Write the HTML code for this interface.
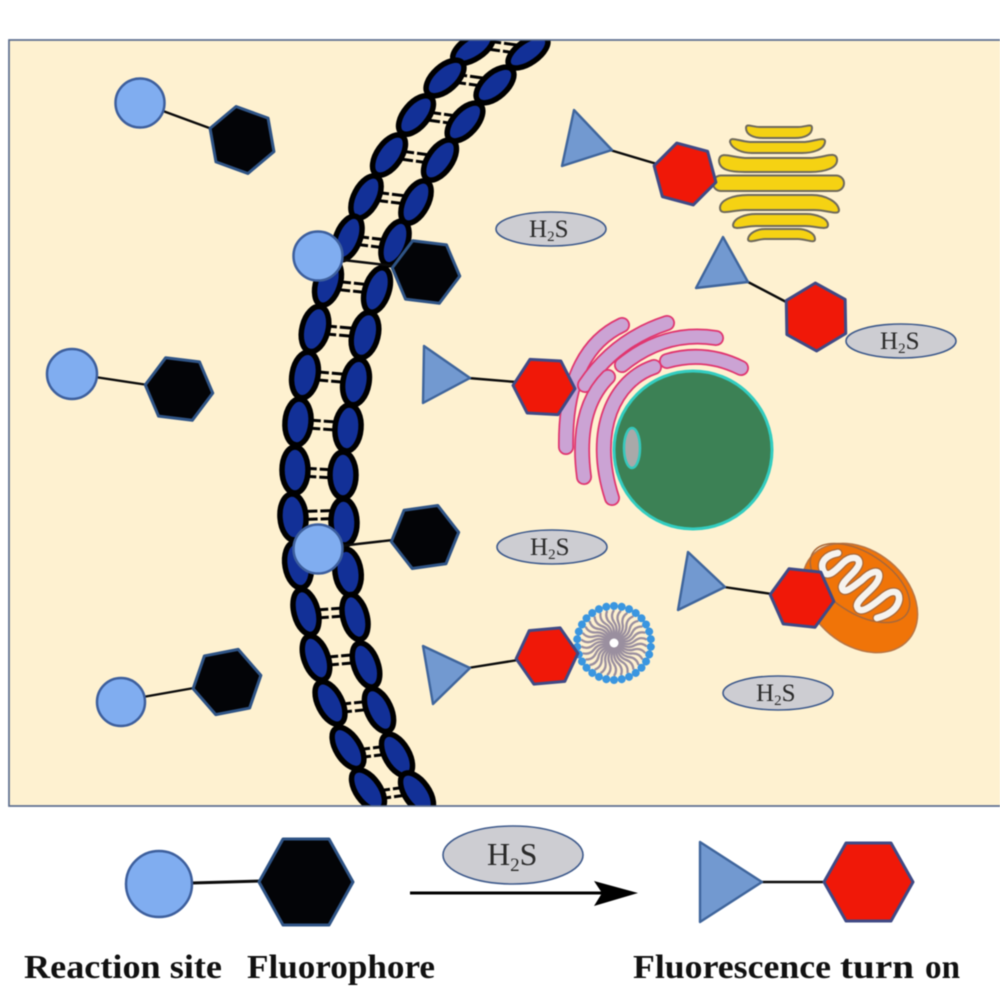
<!DOCTYPE html>
<html><head><meta charset="utf-8"><style>
html,body{margin:0;padding:0;background:#fff;width:1000px;height:1008px;overflow:hidden}
svg{display:block;filter:blur(.6px)}
text{font-family:"Liberation Serif",serif;fill:#2a2a2a}
.b{font-weight:bold;font-size:34px;fill:#111}
.h{font-size:25px}
.l{fill:none;stroke:#0b0b0b;stroke-width:2.4}
.e{fill:#cdcdd2;stroke:#3e5a8c;stroke-width:1.6}
.t{fill:#7299d0;stroke:#3f659c;stroke-width:2.4;stroke-linejoin:round}
.c{fill:#80adf0;stroke:#3d5f9d;stroke-width:2.5}
.k{fill:#030407;stroke:#2f5486;stroke-width:3}
.r{fill:#f01808;stroke:#3f4a86;stroke-width:3}
.y{fill:#f5d213;stroke:#6f6a5c;stroke-width:2}
.o{fill:none;stroke:#e0356f;stroke-width:16;stroke-linecap:round}
.p{fill:none;stroke:#cba3d4;stroke-width:12.500;stroke-linecap:round}
.n ellipse{fill:#123097;stroke:#000;stroke-width:5.500}
</style></head><body>
<svg width="1000" height="1008" viewBox="0 0 1000 1008" xmlns="http://www.w3.org/2000/svg">
<defs>
<clipPath id="cp"><rect x="9" y="40" width="991" height="766"/></clipPath>
<polygon id="hx" vector-effect="non-scaling-stroke" stroke-linejoin="round" points="1,0 .5,.866 -.5,.866 -1,0 -.5,-.866 .5,-.866"/>
<g id="rg" stroke="#000" stroke-width="3" stroke-dasharray="14.500 3 14.500"><line x1="-16" y1="-4" x2="16" y2="-4"/><line x1="-16" y1="4" x2="16" y2="4"/></g>
<g id="mc"><path d="M0 -6 Q5 -14 0 -21 Q-4 -27 0 -33" fill="none" stroke="#9a8f9f" stroke-width="2.300"/><circle cx="0" cy="-37" r="4" fill="#3a96e0"/></g>
</defs>
<rect width="1000" height="1008" fill="#fff"/>
<rect x="9" y="40" width="992" height="766" fill="#fef1d0" stroke="#5f7090" stroke-width="1.5"/>

<g clip-path="url(#cp)">
<g>
<use href="#rg" transform="translate(502 47) rotate(8)"/>
<use href="#rg" transform="translate(468 80) rotate(8)"/>
<use href="#rg" transform="translate(442 118) rotate(8)"/>
<use href="#rg" transform="translate(415 157) rotate(8)"/>
<use href="#rg" transform="translate(390 198) rotate(7)"/>
<use href="#rg" transform="translate(370 242) rotate(7)"/>
<use href="#rg" transform="translate(352 287) rotate(6)"/>
<use href="#rg" transform="translate(338 331) rotate(5)"/>
<use href="#rg" transform="translate(330 377) rotate(5)"/>
<use href="#rg" transform="translate(322 425) rotate(4)"/>
<use href="#rg" transform="translate(318 473) rotate(3)"/>
<use href="#rg" transform="translate(319 515) rotate(-2)"/>
<use href="#rg" transform="translate(330 613) rotate(-4)"/>
<use href="#rg" transform="translate(340 660) rotate(-5)"/>
<use href="#rg" transform="translate(353 707) rotate(-6)"/>
<use href="#rg" transform="translate(372 752) rotate(-7)"/>
<use href="#rg" transform="translate(392 793) rotate(-8)"/>
</g>
<g class="n">
<ellipse rx="23" ry="11" transform="translate(473 48) rotate(-33)"/>
<ellipse rx="23" ry="12" transform="translate(445 78) rotate(-42)"/>
<ellipse rx="23" ry="12" transform="translate(416 115) rotate(-50)"/>
<ellipse rx="23" ry="12" transform="translate(389 155) rotate(-55)"/>
<ellipse rx="23" ry="12" transform="translate(366 197) rotate(-62)"/>
<ellipse rx="23" ry="12" transform="translate(348 238) rotate(-68)"/>
<ellipse rx="23" ry="12" transform="translate(328 283) rotate(-72)"/>
<ellipse rx="23" ry="13" transform="translate(315 329) rotate(-76)"/>
<ellipse rx="23" ry="13" transform="translate(305 375) rotate(-80)"/>
<ellipse rx="23" ry="13" transform="translate(298 422) rotate(-85)"/>
<ellipse rx="23" ry="13" transform="translate(295 470) rotate(-90)"/>
<ellipse rx="23" ry="13" transform="translate(293 517) rotate(86)"/>
<ellipse rx="23" ry="13" transform="translate(298 565) rotate(80)"/>
<ellipse rx="23" ry="12" transform="translate(306 612) rotate(75)"/>
<ellipse rx="23" ry="12" transform="translate(316 658) rotate(70)"/>
<ellipse rx="23" ry="12" transform="translate(330 703) rotate(63)"/>
<ellipse rx="23" ry="12" transform="translate(348 748) rotate(58)"/>
<ellipse rx="23" ry="12" transform="translate(368 790) rotate(55)"/>
<ellipse rx="23" ry="11" transform="translate(528 52) rotate(-35)"/>
<ellipse rx="23" ry="12" transform="translate(495 85) rotate(-42)"/>
<ellipse rx="23" ry="12" transform="translate(465 122) rotate(-48)"/>
<ellipse rx="23" ry="12" transform="translate(440 160) rotate(-55)"/>
<ellipse rx="23" ry="12" transform="translate(416 202) rotate(-62)"/>
<ellipse rx="23" ry="12" transform="translate(395 243) rotate(-68)"/>
<ellipse rx="23" ry="12" transform="translate(377 290) rotate(-72)"/>
<ellipse rx="23" ry="13" transform="translate(365 335) rotate(-76)"/>
<ellipse rx="23" ry="13" transform="translate(356 382) rotate(-80)"/>
<ellipse rx="23" ry="13" transform="translate(348 428) rotate(-85)"/>
<ellipse rx="23" ry="13" transform="translate(343 475) rotate(-90)"/>
<ellipse rx="23" ry="13" transform="translate(344 522) rotate(88)"/>
<ellipse rx="23" ry="13" transform="translate(348 572) rotate(82)"/>
<ellipse rx="23" ry="12" transform="translate(355 617) rotate(75)"/>
<ellipse rx="23" ry="12" transform="translate(366 665) rotate(70)"/>
<ellipse rx="23" ry="12" transform="translate(379 710) rotate(65)"/>
<ellipse rx="23" ry="12" transform="translate(397 755) rotate(60)"/>
<ellipse rx="23" ry="12" transform="translate(417 793) rotate(55)"/>
</g>
</g>
<rect x="9" y="40" width="992" height="766" fill="none" stroke="#5f7090" stroke-width="1.5"/>

<!-- yellow organelle -->
<g class="y">
<path d="M746 128 C746 123 752 127 760 127 L798 127 C806 127 812 123 812 128 C812 135 804 138 795 138 L763 138 C754 138 746 135 746 128Z"/>
<path d="M730 142 C730 136 738 141 750 142 L805 142 C815 141 826 136 825 142 C824 150 812 153 802 153 L752 153 C742 153 732 149 730 142Z"/>
<path d="M719 160 C720 151 730 157 745 158 L812 158 C826 157 836 151 837 159 C838 168 825 172 810 172 L745 172 C730 172 719 170 719 160Z"/>
<rect x="713" y="175.500" width="131" height="15.500" rx="8"/>
<path d="M720 208 C720 200 733 195 748 195 L812 195 C826 195 838 202 839 210 C839 216 828 210 814 210 L745 210 C732 210 720 216 720 208Z"/>
<path d="M733 225 C734 218 745 214 756 214 L806 214 C816 214 828 218 828 225 C828 231 816 226 805 226 L756 226 C745 226 733 231 733 225Z"/>
<path d="M748 239 C749 233 757 229 765 229 L798 229 C806 229 815 233 815 239 C815 244 806 239 798 239 L765 239 C758 239 748 244 748 239Z"/>
</g>

<!-- golgi -->
<g>
<path class="o" d="M622 325 C590 340 565 375 566 447"/><path class="p" d="M622 325 C590 340 565 375 566 447"/>
<path class="o" d="M667 323 Q615 340 585 385"/><path class="p" d="M667 323 Q615 340 585 385"/>
<path class="o" d="M716 338 Q665 330 622 365"/><path class="p" d="M716 338 Q665 330 622 365"/>
<path class="o" d="M608 377 Q575 410 584 477"/><path class="p" d="M608 377 Q575 410 584 477"/>
<path class="o" d="M654 367 C615 380 590 430 612 498"/><path class="p" d="M654 367 C615 380 590 430 612 498"/>
<path class="o" d="M667 361 Q705 350 741 368"/><path class="p" d="M667 361 Q705 350 741 368"/>
</g>
<circle cx="693" cy="450" r="79" fill="#3c8155" stroke="#33cdc0" stroke-width="3"/>
<ellipse cx="632" cy="448" rx="8" ry="20" fill="#a9a9a9" stroke="#36c9bd" stroke-width="2.500"/>

<!-- mitochondrion -->
<ellipse cx="860" cy="598" rx="64" ry="47" transform="rotate(40 860 598)" fill="#f07408" stroke="#b87545" stroke-width="1.500"/>
<ellipse cx="860" cy="583" rx="56" ry="30" transform="rotate(33 860 583)" fill="none" stroke="#a8683a" stroke-width="1.500"/>
<path d="M838 553 C826 555 820 562 823 570 C827 580 836 570 843 563 C850 556 860 556 859 564 C857 572 843 580 842 587 C843 596 854 586 862 580 C870 572 880 568 879 577 C877 588 857 598 857 606 C859 616 872 606 884 596 C892 590 900 590 899 600 C897 610 888 615 877 618" fill="none" stroke="#a8683a" stroke-width="9" stroke-linejoin="round" stroke-linecap="round"/>
<path d="M838 553 C826 555 820 562 823 570 C827 580 836 570 843 563 C850 556 860 556 859 564 C857 572 843 580 842 587 C843 596 854 586 862 580 C870 572 880 568 879 577 C877 588 857 598 857 606 C859 616 872 606 884 596 C892 590 900 590 899 600 C897 610 888 615 877 618" fill="none" stroke="#f6f3ee" stroke-width="6.500" stroke-linejoin="round" stroke-linecap="round"/>

<!-- micelle -->
<g transform="translate(614 643)">
<use href="#mc" transform="rotate(0)"/><use href="#mc" transform="rotate(12)"/><use href="#mc" transform="rotate(24)"/><use href="#mc" transform="rotate(36)"/><use href="#mc" transform="rotate(48)"/><use href="#mc" transform="rotate(60)"/><use href="#mc" transform="rotate(72)"/><use href="#mc" transform="rotate(84)"/><use href="#mc" transform="rotate(96)"/><use href="#mc" transform="rotate(108)"/><use href="#mc" transform="rotate(120)"/><use href="#mc" transform="rotate(132)"/><use href="#mc" transform="rotate(144)"/><use href="#mc" transform="rotate(156)"/><use href="#mc" transform="rotate(168)"/><use href="#mc" transform="rotate(180)"/><use href="#mc" transform="rotate(192)"/><use href="#mc" transform="rotate(204)"/><use href="#mc" transform="rotate(216)"/><use href="#mc" transform="rotate(228)"/><use href="#mc" transform="rotate(240)"/><use href="#mc" transform="rotate(252)"/><use href="#mc" transform="rotate(264)"/><use href="#mc" transform="rotate(276)"/><use href="#mc" transform="rotate(288)"/><use href="#mc" transform="rotate(300)"/><use href="#mc" transform="rotate(312)"/><use href="#mc" transform="rotate(324)"/><use href="#mc" transform="rotate(336)"/><use href="#mc" transform="rotate(348)"/>
<circle r="8" fill="#9a8f9f"/><circle r="4.500" fill="#fff"/>
</g>

<!-- connector lines -->
<g class="l">
<line x1="163" y1="111" x2="212" y2="129"/>
<line x1="343" y1="260" x2="395" y2="266"/>
<line x1="95" y1="377" x2="148" y2="385"/>
<line x1="340" y1="546" x2="393" y2="540"/>
<line x1="143" y1="697" x2="194" y2="688"/>
<line x1="610" y1="150" x2="657" y2="164"/>
<line x1="748" y1="282" x2="790" y2="304"/>
<line x1="468" y1="378" x2="516" y2="382"/>
<line x1="468" y1="668" x2="518" y2="660"/>
<line x1="724" y1="587" x2="772" y2="594"/>
<line x1="192" y1="883" x2="262" y2="881" stroke-width="3"/>
<line x1="760" y1="882" x2="825" y2="882" stroke-width="2.500"/>
</g>

<!-- triangles -->
<polygon class="t" points="574,110 612,150 562,166"/>
<polygon class="t" points="723,237 748,282 696,288"/>
<polygon class="t" points="424,346 470,378 423,403"/>
<polygon class="t" points="423,646 470,668 433,704"/>
<polygon class="t" points="688,552 725,587 678,610"/>
<polygon class="t" points="700,842 762,882 700,922"/>

<!-- hexagons black -->
<use href="#hx" class="k" transform="translate(242 140) rotate(20) scale(34)"/>
<use href="#hx" class="k" transform="translate(426 272) rotate(7) scale(34)"/>
<use href="#hx" class="k" transform="translate(179 389) rotate(7) scale(34)"/>
<use href="#hx" class="k" transform="translate(425 537) rotate(-8) scale(34)"/>
<use href="#hx" class="k" transform="translate(227 682) rotate(-11) scale(34.500)"/>
<polygon class="k" stroke-linejoin="round" points="353,882 329,925 283,925 259,882 283,839 329,839"/>

<!-- hexagons red -->
<use href="#hx" class="r" transform="translate(685 174) rotate(15) scale(32)"/>
<use href="#hx" class="r" transform="translate(816 317) rotate(29) scale(34)"/>
<use href="#hx" class="r" transform="translate(544 387) rotate(3) scale(31)"/>
<use href="#hx" class="r" transform="translate(547 656) rotate(-5) scale(31)"/>
<use href="#hx" class="r" transform="translate(802 598) rotate(6) scale(32)"/>
<polygon class="r" stroke-linejoin="round" points="913,882 891,921 846,921 824,882 846,843 891,843"/>

<!-- circles -->
<circle class="c" cx="140" cy="103" r="24.500"/>
<circle class="c" cx="318" cy="256" r="24.500"/>
<circle class="c" cx="72" cy="374" r="25"/>
<circle class="c" cx="318" cy="549" r="24.500"/>
<circle class="c" cx="121" cy="702" r="24"/>
<circle class="c" cx="159" cy="884" r="33"/>

<!-- H2S -->
<ellipse class="e" cx="551" cy="229" rx="55" ry="17"/>
<ellipse class="e" cx="901" cy="341" rx="55" ry="17"/>
<ellipse class="e" cx="552" cy="547" rx="55" ry="17"/>
<ellipse class="e" cx="778" cy="693" rx="55" ry="17"/>
<ellipse class="e" cx="513" cy="855" rx="70" ry="29"/>
<text class="h" x="529" y="237">H<tspan font-size="15" dy="4">2</tspan><tspan dy="-4">S</tspan></text>
<text class="h" x="880" y="349">H<tspan font-size="15" dy="4">2</tspan><tspan dy="-4">S</tspan></text>
<text class="h" x="530" y="555">H<tspan font-size="15" dy="4">2</tspan><tspan dy="-4">S</tspan></text>
<text class="h" x="756" y="701">H<tspan font-size="15" dy="4">2</tspan><tspan dy="-4">S</tspan></text>
<text x="487" y="865" font-size="32">H<tspan font-size="19" dy="6">2</tspan><tspan dy="-6">S</tspan></text>

<!-- arrow -->
<line x1="410" y1="893" x2="610" y2="893" stroke="#000" stroke-width="3"/>
<polygon points="594,881 638,893 594,906 602,893" fill="#000"/>

<!-- labels -->
<text class="b" x="24" y="978" textLength="198" lengthAdjust="spacingAndGlyphs">Reaction site</text>
<text class="b" x="247" y="978" textLength="188" lengthAdjust="spacingAndGlyphs">Fluorophore</text>
<text class="b" x="633" y="978" textLength="198" lengthAdjust="spacingAndGlyphs">Fluorescence</text>
<text class="b" x="840" y="978" textLength="74" lengthAdjust="spacingAndGlyphs">turn</text>
<text class="b" x="925" y="978" textLength="35" lengthAdjust="spacingAndGlyphs">on</text>
</svg>
</body></html>
